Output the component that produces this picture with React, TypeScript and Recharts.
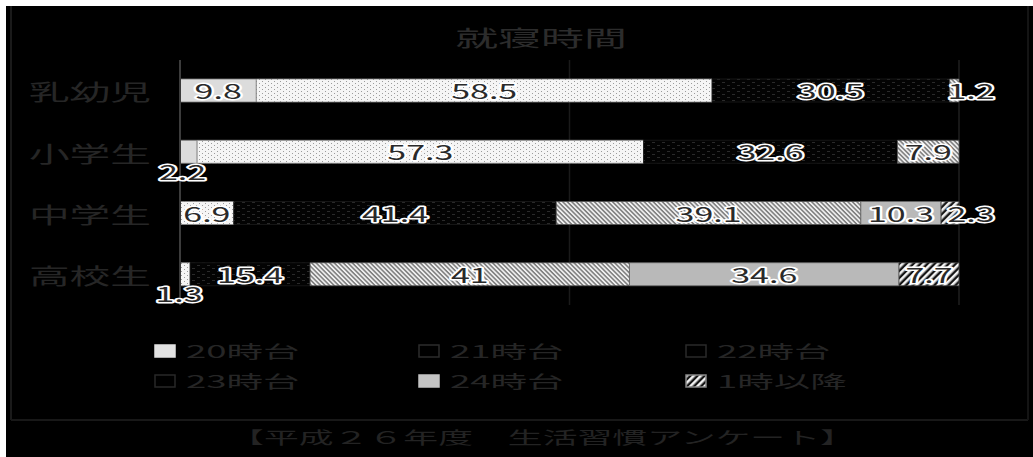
import React from "react";
import { BarChart, Bar, XAxis, YAxis, CartesianGrid, LabelList } from "recharts";

const categories = ["乳幼児", "小学生", "中学生", "高校生"];
const seriesNames = ["20時台", "21時台", "22時台", "23時台", "24時台", "1時以降"];
const h20 = [9.8, 2.2, 0, 0];
const h21 = [58.5, 57.3, 6.9, 1.3];
const h22 = [30.5, 32.6, 41.4, 15.4];
const h23 = [1.2, 7.9, 39.1, 41];
const h24 = [0, 0, 10.3, 34.6];
const h1 = [0, 0, 2.3, 7.7];
const xTicks = [0, 50, 100];
const title = "就寝時間";
const source = "【平成２６年度　生活習慣アンケート】";

const keys = ["h20", "h21", "h22", "h23", "h24", "h1"];
const seriesValues = [h20, h21, h22, h23, h24, h1];

const data = categories.map((name, i) => {
  const row: Record<string, string | number> = { name };
  keys.forEach((k, s) => {
    row[k] = seriesValues[s][i];
  });
  return row;
});

const FONT = "'Noto Sans CJK JP', 'Noto Sans', sans-serif";
const W = 1027;
const H = 451;
const MARGIN = { top: 54, right: 74, bottom: 152, left: 0 };
const PLOT_RIGHT = W - MARGIN.right;

// fill + stroke for bars, swatch look for the legend
const styles = [
  { fill: "#dcdcdc", stroke: "#7a7a7a", swatch: "#e2e2e2", swatchStroke: "#e2e2e2" },
  { fill: "dots", stroke: "#8a8a8a", swatch: "#000", swatchStroke: "#2c2c2c" },
  { fill: "dash", stroke: "#1c1c1c", swatch: "#000", swatchStroke: "#2a2a2a" },
  { fill: "back", stroke: "#555", swatch: "#000", swatchStroke: "#282828" },
  { fill: "#b9b9b9", stroke: "#6a6a6a", swatch: "#c4c4c4", swatchStroke: "#c4c4c4" },
  { fill: "fwd", stroke: "#444", swatch: "fwd", swatchStroke: "#888" },
];

const paint = (f: string, prefix: string) => (f.startsWith("#") ? f : `url(#${prefix}-${f})`);

function Patterns({ prefix }: { prefix: string }) {
  return (
    <defs>
      <pattern id={`${prefix}-dots`} width="6" height="4" patternUnits="userSpaceOnUse">
        <rect width="6" height="4" fill="#f5f5f5" />
        <rect x="1" y="1" width="1" height="1" fill="#9c9c9c" />
        <rect x="4" y="3" width="1" height="1" fill="#9c9c9c" />
      </pattern>
      <pattern id={`${prefix}-dash`} width="10" height="6" patternUnits="userSpaceOnUse">
        <rect width="10" height="6" fill="#030303" />
        <rect x="1" y="1" width="3" height="1" fill="#2a2a2a" />
        <rect x="6" y="4" width="3" height="1" fill="#2a2a2a" />
      </pattern>
      <pattern id={`${prefix}-back`} width="3.2" height="3.2" patternUnits="userSpaceOnUse" patternTransform="rotate(-45)">
        <rect width="3.2" height="3.2" fill="#7c7c7c" />
        <rect width="1.7" height="3.2" fill="#efefef" />
      </pattern>
      <pattern id={`${prefix}-fwd`} width="5" height="5" patternUnits="userSpaceOnUse" patternTransform="rotate(45)">
        <rect width="5" height="5" fill="#151515" />
        <rect width="2.6" height="5" fill="#f2f2f2" />
      </pattern>
    </defs>
  );
}

function Stretch(props: {
  x: number;
  y: number;
  text: string;
  size: number;
  sx: number;
  anchor?: "start" | "middle" | "end";
  fill: string;
  halo?: boolean;
}) {
  const { x, y, text, size, sx, anchor = "middle", fill, halo } = props;
  return (
    <text
      transform={`translate(${x},${y}) scale(${sx},1)`}
      textAnchor={anchor}
      dominantBaseline="central"
      fontSize={size}
      fontFamily={FONT}
      fill={fill}
      stroke={halo ? "#fff" : "none"}
      strokeWidth={halo ? 3 : 0}
      strokeLinejoin="round"
      paintOrder="stroke"
    >
      {text}
    </text>
  );
}

const renderLabel = (p: any) => {
  const vb = p.viewBox ?? p;
  const x = Number(vb.x);
  const y = Number(vb.y);
  const w = Number(vb.width);
  const h = Number(vb.height);
  const v = Number(p.value);
  if (!v) return null;
  let cx = x + w / 2;
  let cy = y + h / 2;
  if (w < 25) {
    if (x + w >= PLOT_RIGHT - 1) {
      cx = PLOT_RIGHT + 12;
    } else {
      cx = x + w / 2 - 6;
      cy = y + h + 8;
    }
  }
  return <Stretch x={cx} y={cy} text={String(v)} size={20} sx={1.7} fill="#2a2a2a" halo />;
};

const CategoryTick = (p: any) => (
  <Stretch x={Number(p.x) - 21} y={Number(p.y)} text={p.payload.value} size={22} sx={1.85} anchor="end" fill="#262626" />
);

const legendCols = [155, 419, 686];
const legendRows = [351, 381];

export default function App() {
  return (
    <div style={{ position: "absolute", left: 0, top: 0, width: 1033, height: 457, background: "#fff" }}>
      <div style={{ position: "absolute", left: 6, top: 6, width: W, height: H, background: "#000" }}>
        <BarChart width={W} height={H} data={data} layout="vertical" margin={MARGIN} barSize={23}>
          <Patterns prefix="bar" />
          <CartesianGrid horizontal={false} stroke="#1a1a1a" strokeWidth={1.5} />
          <XAxis type="number" domain={[0, 100]} ticks={xTicks} hide />
          <YAxis
            type="category"
            dataKey="name"
            width={174}
            axisLine={{ stroke: "#3c3c3c", strokeWidth: 2 }}
            tickLine={false}
            tick={CategoryTick}
          />
          {keys.map((k, s) => (
            <Bar
              key={k}
              dataKey={k}
              name={seriesNames[s]}
              stackId="a"
              fill={paint(styles[s].fill, "bar")}
              stroke={styles[s].stroke}
              strokeWidth={0.8}
              isAnimationActive={false}
            >
              <LabelList dataKey={k} content={renderLabel} />
            </Bar>
          ))}
        </BarChart>
      </div>
      <svg width={1033} height={457} style={{ position: "absolute", left: 0, top: 0, pointerEvents: "none" }}>
        <Patterns prefix="leg" />
        <line x1={11} y1={6} x2={11} y2={420} stroke="#1a1a1a" strokeWidth={2} />
        <line x1={11} y1={420} x2={1028} y2={420} stroke="#181818" strokeWidth={2} />
        <line x1={1028} y1={6} x2={1028} y2={420} stroke="#141414" strokeWidth={2} />
        <Stretch x={541} y={36} text={title} size={22} sx={1.95} fill="#2c2c2c" />
        {seriesNames.map((name, s) => {
          const cx = legendCols[s % 3];
          const cy = legendRows[Math.floor(s / 3)];
          return (
            <g key={name}>
              <rect
                x={cx}
                y={cy - 6}
                width={20}
                height={12}
                fill={paint(styles[s].swatch, "leg")}
                stroke={styles[s].swatchStroke}
                strokeWidth={1.5}
              />
              <Stretch x={cx + 31} y={cy} text={name} size={17} sx={2.15} anchor="start" fill="#262626" />
            </g>
          );
        })}
        <Stretch x={542} y={437} text={source} size={17} sx={2.05} fill="#232323" />
      </svg>
    </div>
  );
}
